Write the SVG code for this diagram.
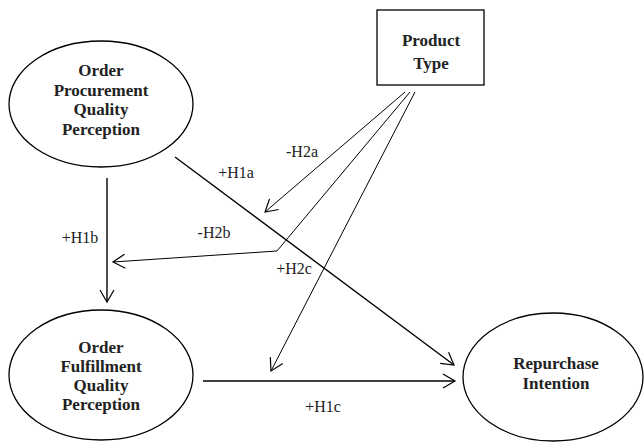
<svg xmlns="http://www.w3.org/2000/svg" width="644" height="443" viewBox="0 0 644 443">
<style>
.node{fill:#fff;stroke:#000;stroke-width:1.3}
.t{font-family:"Liberation Serif","Times New Roman",serif;font-weight:bold;font-size:17px;fill:#222;text-anchor:middle}
.lbl{font-family:"Liberation Serif","Times New Roman",serif;font-size:16px;fill:#222;text-anchor:middle}
.c{fill:none;stroke:#000;stroke-width:1.4}
.th{stroke-width:1}
</style>
<defs>
<marker id="ah" markerUnits="userSpaceOnUse" markerWidth="24" markerHeight="24" refX="14" refY="12" orient="auto" viewBox="0 0 24 24">
<path d="M2,5 L14,12 L2,19" fill="none" stroke="#000" stroke-width="1.2"/>
</marker>
</defs>
<rect width="644" height="443" fill="#fff"/>
<g id="connectors">
<path class="c" d="M107,178 L107,302" marker-end="url(#ah)"/>
<path class="c" d="M175,157 L454,365" marker-end="url(#ah)"/>
<path class="c" d="M203,381 L455,381" marker-end="url(#ah)"/>
<path class="c th" d="M405,92 L265,212" marker-end="url(#ah)"/>
<path class="c th" d="M410,92 L277,251 L113,262" marker-end="url(#ah)"/>
<path class="c th" d="M415,92 L271,371" marker-end="url(#ah)"/>
</g>
<g id="labels">
<text class="lbl" x="302" y="157">-H2a</text>
<text class="lbl" x="236" y="178">+H1a</text>
<text class="lbl" x="214" y="238">-H2b</text>
<text class="lbl" x="294" y="274">+H2c</text>
<text class="lbl" x="80" y="243">+H1b</text>
<text class="lbl" x="323" y="412">+H1c</text>
</g>
<g id="opq">
<ellipse class="node" cx="101" cy="104" rx="92" ry="63"/>
<text class="t" x="101" y="76">Order</text>
<text class="t" x="101" y="96">Procurement</text>
<text class="t" x="101" y="115">Quality</text>
<text class="t" x="101" y="135">Perception</text>
</g>
<g id="ofq">
<ellipse class="node" cx="101" cy="375" rx="92" ry="65"/>
<text class="t" x="101" y="353">Order</text>
<text class="t" x="101" y="372">Fulfillment</text>
<text class="t" x="101" y="391">Quality</text>
<text class="t" x="101" y="410">Perception</text>
</g>
<g id="product">
<rect class="node" x="377" y="10" width="107" height="75"/>
<text class="t" x="431" y="46">Product</text>
<text class="t" x="431" y="69">Type</text>
</g>
<g id="ri">
<ellipse class="node" cx="553" cy="377" rx="90" ry="64"/>
<text class="t" x="556" y="369">Repurchase</text>
<text class="t" x="556" y="389">Intention</text>
</g>
</svg>
